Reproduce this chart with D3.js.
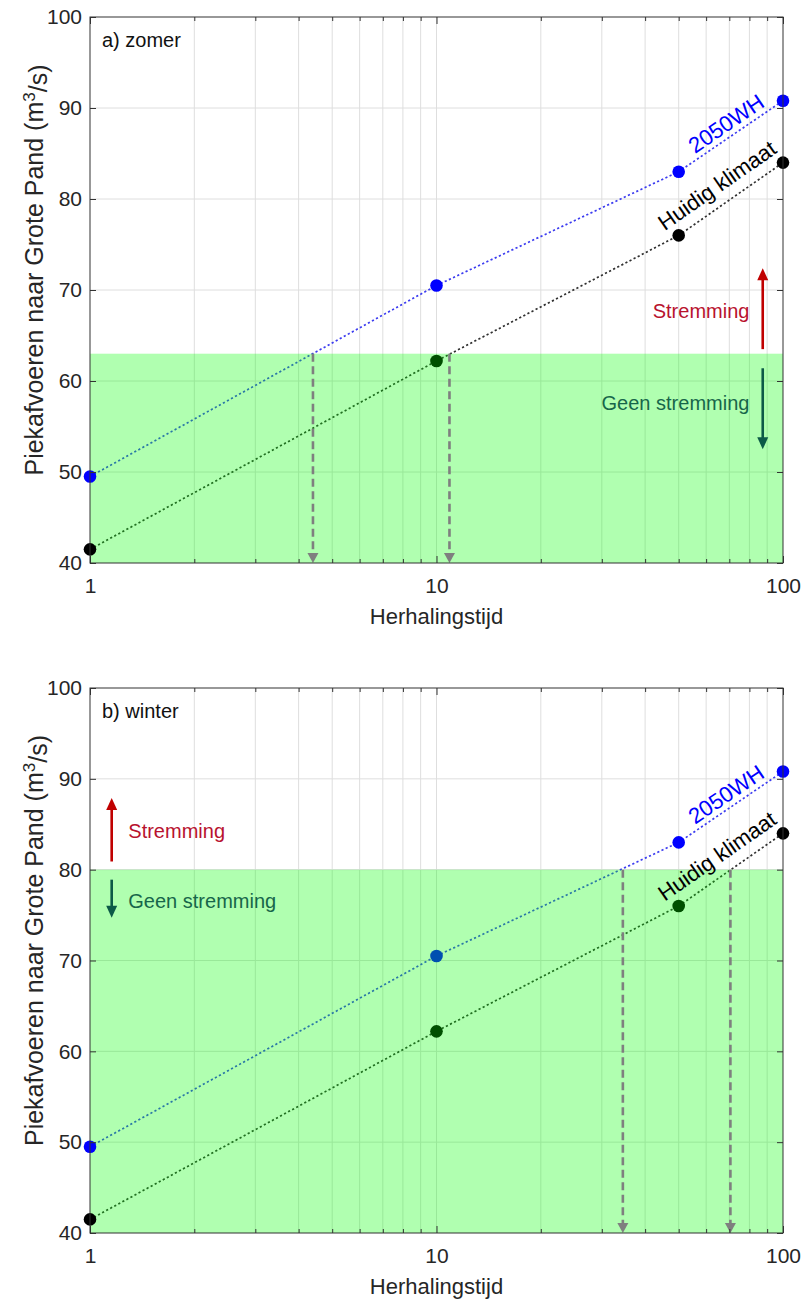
<!DOCTYPE html>
<html>
<head>
<meta charset="utf-8">
<script src="https://cdn.jsdelivr.net/npm/d3@7"></script>
<style>
  body { margin: 0; background: #fff; }
  text { font-family: "Liberation Sans", Arial, sans-serif; }
</style>
</head>
<body>
<div id="chart"></div>
<script>
// values
const returnPeriods = [1, 10, 50, 100]
const huidigKlimaat = [41.5, 62.2, 76, 84]
const scenario2050WH = [49.5, 70.5, 83, 90.8]
const panelNames = ['a) zomer', 'b) winter']
const thresholds = [63, 80]
const crossings = [[4.4, 10.9], [34.5, 70.5]]
const yTicks = [40, 50, 60, 70, 80, 90, 100]
const xMajor = [1, 10, 100]

const width = 804
const height = 1301

const panels = [
  {
    top: 17, bottom: 563,
    strem: { x: 87.4, up: [63.5, 72.4], down: [61.4, 52.5], tx: 80, anchor: 'end', ty: [66.9, 56.8] }
  },
  {
    top: 688, bottom: 1233,
    strem: { x: 1.155, up: [80.9, 87.9], down: [78.9, 74.7], tx: 1.29, anchor: 'start', ty: [83.5, 75.8] }
  }
]

const svg = d3.select('#chart')
  .append('svg')
  .attr('width', width)
  .attr('height', height)
  .attr('viewBox', [0, 0, width, height])

const x = d3.scaleLog().domain([1, 100]).range([90, 783])
const xMinor = x.ticks().filter(d => !xMajor.includes(d))

const series = [
  { name: '2050WH', values: scenario2050WH, color: '#0000ff', line: '#3c3cf0', labelAt: [68.5, 88.3] },
  { name: 'Huidig klimaat', values: huidigKlimaat, color: '#000000', line: '#303030', labelAt: [64.5, 81.5] }
]

const drawPanel = (p, i) => {
  const y = d3.scaleLinear().domain([40, 100]).range([p.bottom, p.top])
  const g = svg.append('g')

  // grid
  g.append('g').selectAll('line.gx')
    .data(x.ticks().filter(d => d > 1 && d < 100))
    .enter().append('line')
    .attr('x1', d => x(d)).attr('x2', d => x(d))
    .attr('y1', p.top).attr('y2', p.bottom)
    .attr('stroke', '#dedede').attr('stroke-width', 1)
  g.append('g').selectAll('line.gy')
    .data(yTicks.filter(d => d > 40 && d < 100))
    .enter().append('line')
    .attr('x1', x(1)).attr('x2', x(100))
    .attr('y1', d => y(d)).attr('y2', d => y(d))
    .attr('stroke', '#dedede').attr('stroke-width', 1)

  const line = d3.line()
    .x((d, j) => x(returnPeriods[j]))
    .y(d => y(d))

  series.forEach(s => {
    g.append('path')
      .attr('d', line(s.values))
      .attr('fill', 'none')
      .attr('stroke', s.line)
      .attr('stroke-width', 1.7)
      .attr('stroke-dasharray', '2.2,2.4')
    g.selectAll(null)
      .data(s.values.slice(1))
      .enter().append('circle')
      .attr('cx', (d, j) => x(returnPeriods[j + 1]))
      .attr('cy', d => y(d))
      .attr('r', 6.3)
      .attr('fill', s.color)
  })

  // green "no blockage" zone, drawn transparent on top
  g.append('rect')
    .attr('x', x(1))
    .attr('y', y(thresholds[i]))
    .attr('width', x(100) - x(1))
    .attr('height', y(40) - y(thresholds[i]))
    .attr('fill', 'rgb(0,255,0)')
    .attr('fill-opacity', 0.31)

  series.forEach(s => {
    g.append('circle')
      .attr('cx', x(returnPeriods[0]))
      .attr('cy', y(s.values[0]))
      .attr('r', 6.3)
      .attr('fill', s.color)
  })

  // dashed arrows down from the threshold crossing
  crossings[i].forEach(t => {
    const cx = x(t)
    g.append('line')
      .attr('x1', cx).attr('x2', cx)
      .attr('y1', y(thresholds[i])).attr('y2', y(40) - 8)
      .attr('stroke', '#7f7f7f')
      .attr('stroke-width', 2.6)
      .attr('stroke-dasharray', '8,4.5')
    g.append('path')
      .attr('d', `M${cx - 5.5},${y(40) - 10}L${cx + 5.5},${y(40) - 10}L${cx},${y(40)}Z`)
      .attr('fill', '#7f7f7f')
  })

  // series labels rotated along the line
  series.forEach(s => {
    const ang = Math.atan2(y(s.values[3]) - y(s.values[2]), x(100) - x(50)) * 180 / Math.PI
    const lx = x(s.labelAt[0])
    const ly = y(s.labelAt[1])
    g.append('text')
      .attr('transform', `translate(${lx},${ly}) rotate(${ang})`)
      .attr('text-anchor', 'middle')
      .attr('dy', '0.35em')
      .attr('font-size', 22)
      .attr('fill', s.color)
      .text(s.name)
  })

  // stremming arrows
  const st = p.strem
  const arrow = (from, to, color) => {
    const ax = x(st.x)
    const dir = Math.sign(y(to) - y(from))
    g.append('line')
      .attr('x1', ax).attr('x2', ax)
      .attr('y1', y(from)).attr('y2', y(to) - dir * 10)
      .attr('stroke', color).attr('stroke-width', 2.6)
    g.append('path')
      .attr('d', `M${ax - 5.5},${y(to) - dir * 12}L${ax + 5.5},${y(to) - dir * 12}L${ax},${y(to)}Z`)
      .attr('fill', color)
  }
  arrow(st.up[0], st.up[1], '#c00000')
  arrow(st.down[0], st.down[1], '#0c5a47')
  g.append('text')
    .attr('x', x(st.tx)).attr('y', y(st.ty[0]))
    .attr('text-anchor', st.anchor)
    .attr('font-size', 20)
    .attr('fill', '#b8122e')
    .text('Stremming')
  g.append('text')
    .attr('x', x(st.tx)).attr('y', y(st.ty[1]))
    .attr('text-anchor', st.anchor)
    .attr('font-size', 20)
    .attr('fill', '#17664a')
    .text('Geen stremming')

  // axes
  const fmt = d => String(d)
  g.append('g')
    .attr('transform', `translate(0,${p.bottom})`)
    .call(d3.axisBottom(x).tickValues(xMajor).tickFormat(fmt).tickSizeInner(-7).tickSizeOuter(0).tickPadding(15))
  g.append('g')
    .attr('transform', `translate(0,${p.bottom})`)
    .call(d3.axisBottom(x).tickValues(xMinor).tickFormat('').tickSizeInner(-4).tickSizeOuter(0))
  g.append('g')
    .attr('transform', `translate(0,${p.top})`)
    .call(d3.axisTop(x).tickValues(xMajor).tickFormat('').tickSizeInner(-7).tickSizeOuter(0))
  g.append('g')
    .attr('transform', `translate(0,${p.top})`)
    .call(d3.axisTop(x).tickValues(xMinor).tickFormat('').tickSizeInner(-4).tickSizeOuter(0))
  g.append('g')
    .attr('transform', `translate(${x(1)},0)`)
    .call(d3.axisLeft(y).tickValues(yTicks).tickFormat(fmt).tickSizeInner(-6).tickSizeOuter(0).tickPadding(8))
  g.append('g')
    .attr('transform', `translate(${x(100)},0)`)
    .call(d3.axisRight(y).tickValues(yTicks).tickFormat('').tickSizeInner(-6).tickSizeOuter(0))

  g.selectAll('.domain').remove()
  g.selectAll('.tick line').attr('stroke', '#333')
  g.selectAll('.tick text')
    .attr('font-family', '"Liberation Sans", Arial, sans-serif')
    .attr('font-size', 21)
    .attr('fill', '#262626')

  g.append('rect')
    .attr('x', x(1)).attr('y', p.top)
    .attr('width', x(100) - x(1)).attr('height', p.bottom - p.top)
    .attr('fill', 'none').attr('stroke', '#333').attr('stroke-width', 1)

  g.append('text')
    .attr('x', x(1) + 12).attr('y', p.top + 30)
    .attr('font-size', 20)
    .attr('fill', '#111')
    .text(panelNames[i])

  g.append('text')
    .attr('x', (x(1) + x(100)) / 2)
    .attr('y', p.bottom + 61)
    .attr('text-anchor', 'middle')
    .attr('font-size', 22)
    .attr('fill', '#262626')
    .text('Herhalingstijd')

  const yl = g.append('text')
    .attr('transform', `translate(43,${(p.top + p.bottom) / 2 - 20}) rotate(-90)`)
    .attr('text-anchor', 'middle')
    .attr('font-size', 25)
    .attr('fill', '#262626')
  yl.append('tspan').text('Piekafvoeren naar Grote Pand (m')
  yl.append('tspan').attr('dy', '-0.45em').attr('font-size', 17).text('3')
  yl.append('tspan').attr('dy', '0.45em').text('/s)')
}

panels.forEach(drawPanel)
</script>
</body>
</html>
